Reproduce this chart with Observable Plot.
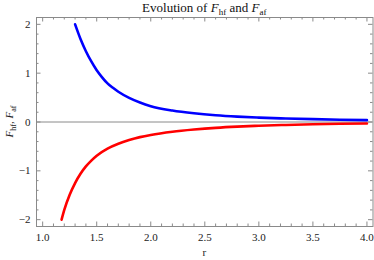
<!DOCTYPE html>
<html>
<head>
<meta charset="utf-8">
<script src="https://cdn.jsdelivr.net/npm/d3@7"></script>
<script src="https://cdn.jsdelivr.net/npm/@observablehq/plot@0.6"></script>
<style>
  html, body { margin: 0; padding: 0; background: #fff; }
  #chart { width: 374px; height: 260px; }
</style>
</head>
<body>
<div id="chart"></div>
<script>
// Data
const rBlue = [1.30, 1.35, 1.40, 1.45, 1.50, 1.55, 1.60, 1.65, 1.70, 1.80, 1.90, 2.00, 2.20, 2.40, 2.60, 2.80, 3.00, 3.25, 3.50, 3.75, 4.00];
const fHf   = [2.00, 1.70, 1.45, 1.24, 1.06, 0.915, 0.79, 0.70, 0.62, 0.495, 0.40, 0.325, 0.235, 0.178, 0.138, 0.11, 0.09, 0.072, 0.058, 0.047, 0.038];
const rRed  = [1.175, 1.20, 1.25, 1.30, 1.35, 1.40, 1.45, 1.50, 1.60, 1.70, 1.80, 1.90, 2.00, 2.20, 2.40, 2.60, 2.80, 3.00, 3.25, 3.50, 3.75, 4.00];
const fAf   = [-2.00, -1.80, -1.49, -1.25, -1.06, -0.91, -0.79, -0.69, -0.545, -0.445, -0.37, -0.31, -0.265, -0.20, -0.155, -0.12, -0.095, -0.077, -0.06, -0.047, -0.037, -0.03];

const xMajor = [1.0, 1.5, 2.0, 2.5, 3.0, 3.5, 4.0];
const yMajor = [-2, -1, 0, 1, 2];
const xMinor = d3.range(10, 41).map(d => d / 10).filter(d => !xMajor.some(m => Math.abs(m - d) < 1e-9));
const yMinor = d3.range(-10, 11).map(d => d / 5).filter(d => !yMajor.some(m => Math.abs(m - d) < 1e-9));

const blue = rBlue.map((r, i) => ({r, f: fHf[i]}));
const red = rRed.map((r, i) => ({r, f: fAf[i]}));

const W = 374, H = 260;
const mL = 36, mR = 1.5, mT = 17, mB = 34;
const innerH = H - mT - mB;
const innerW = W - mL - mR;
const tickCol = "#8a8a8a";
const serif = "'Liberation Serif', 'DejaVu Serif', serif";

const plot = Plot.plot({
  width: W, height: H,
  marginLeft: mL, marginRight: mR, marginTop: mT, marginBottom: mB,
  style: {fontFamily: serif, fontSize: "11px", color: "#222", background: "#fff"},
  x: {domain: [0.943, 4.056]},
  y: {domain: [-2.14, 2.14]},
  marks: [
    Plot.ruleY([0], {stroke: "#8a8a8a", strokeWidth: 1}),
    Plot.ruleX(xMajor, {stroke: tickCol, insetTop: innerH - 4.5}),
    Plot.ruleX(xMinor, {stroke: tickCol, insetTop: innerH - 2.5}),
    Plot.ruleX(xMajor, {stroke: tickCol, insetBottom: innerH - 4.5}),
    Plot.ruleX(xMinor, {stroke: tickCol, insetBottom: innerH - 2.5}),
    Plot.ruleY(yMajor, {stroke: tickCol, insetRight: innerW - 4.5}),
    Plot.ruleY(yMinor, {stroke: tickCol, insetRight: innerW - 2.5}),
    Plot.ruleY(yMajor, {stroke: tickCol, insetLeft: innerW - 4.5}),
    Plot.ruleY(yMinor, {stroke: tickCol, insetLeft: innerW - 2.5}),
    Plot.line(blue, {x: "r", y: "f", stroke: "#0000ff", strokeWidth: 2.6, curve: "monotone-x"}),
    Plot.line(red, {x: "r", y: "f", stroke: "#ff0000", strokeWidth: 2.6, curve: "monotone-x"}),
    Plot.frame({stroke: tickCol}),
    Plot.axisX(xMajor, {tickSize: 0, tickPadding: 7, tickFormat: d => d.toFixed(1), label: null, fill: "#222"}),
    Plot.axisY(yMajor, {tickSize: 0, tickPadding: 6, tickFormat: d => d < 0 ? "\u2212" + Math.abs(d) : String(d), label: null, fill: "#222"})
  ]
});

const svg = d3.select(plot);
const title = svg.append("text")
  .attr("x", mL + innerW / 2).attr("y", 12)
  .attr("text-anchor", "middle")
  .attr("font-family", serif).attr("font-size", 13).attr("fill", "#111");
title.append("tspan").text("Evolution of ");
title.append("tspan").attr("font-style", "italic").text("F");
title.append("tspan").attr("font-size", 9).attr("dy", 3).text("hf");
title.append("tspan").attr("dy", -3).text(" and ");
title.append("tspan").attr("font-style", "italic").text("F");
title.append("tspan").attr("font-size", 9).attr("dy", 3).text("af");

svg.append("text")
  .attr("x", mL + innerW / 2).attr("y", 256)
  .attr("text-anchor", "middle")
  .attr("font-family", serif).attr("font-size", 11).attr("fill", "#222")
  .text("r");

const yl = svg.append("text")
  .attr("transform", `translate(13,${mT + innerH / 2}) rotate(-90)`)
  .attr("text-anchor", "middle")
  .attr("font-family", serif).attr("font-size", 11).attr("fill", "#222");
yl.append("tspan").attr("font-style", "italic").text("F");
yl.append("tspan").attr("font-size", 8).attr("dy", 2.5).text("hf");
yl.append("tspan").attr("dy", -2.5).text(", ");
yl.append("tspan").attr("font-style", "italic").text("F");
yl.append("tspan").attr("font-size", 8).attr("dy", 2.5).text("af");

document.getElementById("chart").appendChild(plot);
</script>
</body>
</html>
